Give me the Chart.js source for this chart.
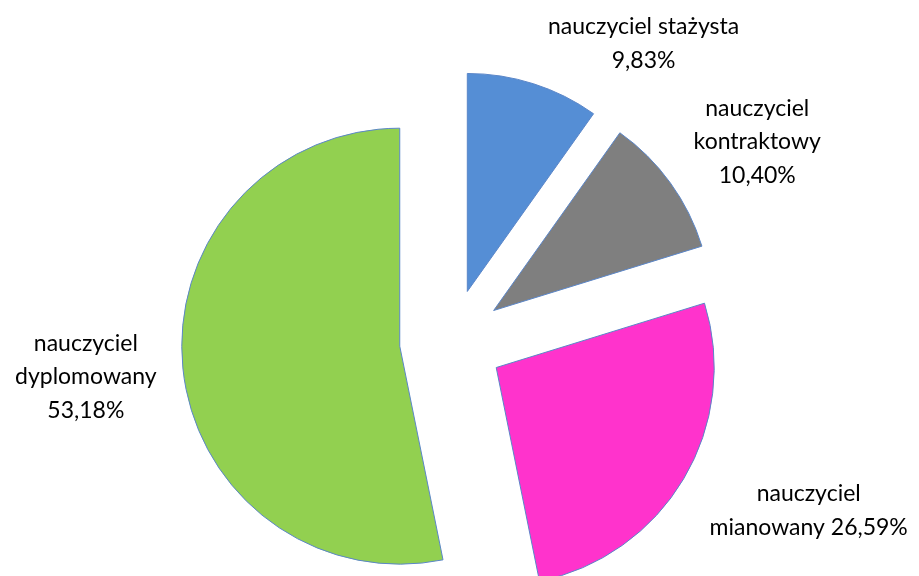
<!DOCTYPE html>
<html>
<head>
<meta charset="utf-8">
<script src="https://cdn.jsdelivr.net/npm/chart.js@4/dist/chart.umd.min.js"></script>
<style>
  html, body { margin: 0; padding: 0; background: #fff; }
  #wrap { width: 919px; height: 576px; }
</style>
</head>
<body>
<div id="wrap"><canvas id="myChart" width="919" height="576"></canvas></div>
<script>
// data (percent of teachers by grade)
var categories = ['nauczyciel stażysta', 'nauczyciel kontraktowy', 'nauczyciel mianowany', 'nauczyciel dyplomowany'];
var values = [9.83, 10.40, 26.59, 53.18];
var colors = ['#558ED5', '#7F7F7F', '#FF33CC', '#92D050'];

// how each data label is broken into lines (Excel wrapped them like this)
var labelFormats = ['{name}\n{pct}', '{w1}\n{w2}\n{pct}', '{w1}\n{w2} {pct}', '{w1}\n{w2}\n{pct}'];
// nudge of each label block from the slice's outer edge at mid angle
var labelNudge = [[110, -40], [87, -41], [125, 32], [-97, 9]];

var EXPLODE = 52;     // px each slice is pulled out
var RADIUS = 218;

function pct(v) {
    return v.toFixed(2).replace('.', ',') + '%';
}

function labelLines(i) {
    var words = categories[i].split(' ');
    return labelFormats[i]
        .replace('{name}', categories[i])
        .replace('{w1}', words[0])
        .replace('{w2}', words.slice(1).join(' '))
        .replace('{pct}', pct(values[i]))
        .split('\n');
}

// pull every slice outwards along its mid angle
var explodePlugin = {
    id: 'explode',
    afterDatasetUpdate: function(chart, args) {
        var meta = chart.getDatasetMeta(args.index);
        meta.data.forEach(function(arc) {
            var mid = (arc.startAngle + arc.endAngle) / 2;
            arc.x = arc.x + Math.cos(mid) * EXPLODE;
            arc.y = arc.y + Math.sin(mid) * EXPLODE;
        });
    }
};

var labelPlugin = {
    id: 'sliceLabels',
    afterDatasetsDraw: function(chart) {
        var ctx = chart.ctx;
        var meta = chart.getDatasetMeta(0);
        ctx.save();
        ctx.font = '23px Lato';
        ctx.fillStyle = '#000';
        ctx.textAlign = 'center';
        ctx.textBaseline = 'middle';
        var lh = 33.5;
        meta.data.forEach(function(arc, i) {
            var mid = (arc.startAngle + arc.endAngle) / 2;
            var ex = arc.x + Math.cos(mid) * arc.outerRadius + labelNudge[i][0];
            var ey = arc.y + Math.sin(mid) * arc.outerRadius + labelNudge[i][1];
            var lines = labelLines(i);
            var y0 = ey - (lines.length - 1) * lh / 2;
            lines.forEach(function(t, k) {
                ctx.fillText(t, ex, y0 + k * lh);
            });
        });
        ctx.restore();
    }
};

function main() {
    var ctx = document.getElementById('myChart').getContext('2d');
    new Chart(ctx, {
        type: 'pie',
        data: {
            labels: categories,
            datasets: [{
                data: values,
                backgroundColor: colors,
                borderColor: '#5B86C8',
                borderWidth: 1
            }]
        },
        options: {
            responsive: false,
            animation: false,
            radius: RADIUS,
            layout: { padding: { left: 0, right: 16, top: 106, bottom: 0 } },
            plugins: {
                legend: { display: false },
                tooltip: { enabled: false }
            }
        },
        plugins: [explodePlugin, labelPlugin]
    });
}

document.addEventListener('DOMContentLoaded', function() {
    main();
});
</script>
</body>
</html>
